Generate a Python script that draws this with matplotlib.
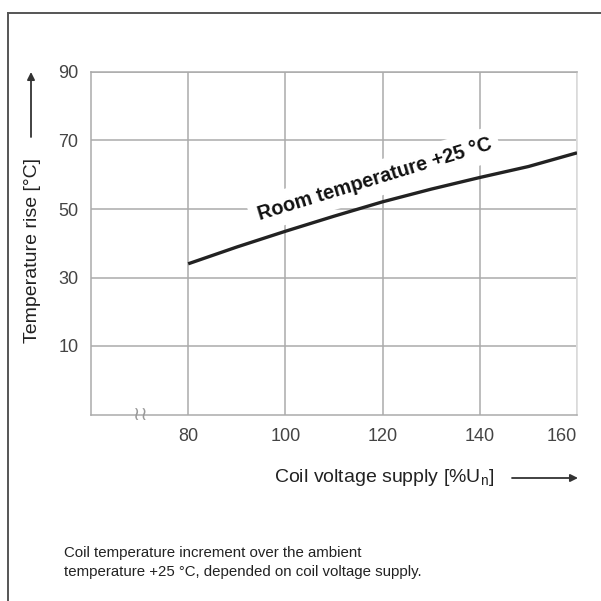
import matplotlib
matplotlib.use("Agg")
import matplotlib.pyplot as plt
from matplotlib.lines import Line2D

plt.rcParams['font.family'] = ['Liberation Sans', 'DejaVu Sans']

# coil voltage supply [%Un] vs temperature rise [°C]
voltage = [80, 90, 100, 110, 120, 130, 140, 150, 155, 160]
temp_rise = [34, 38.9, 43.5, 47.9, 52.1, 55.8, 59.2, 62.4, 64.4, 66.4]

x_ticks = [80, 100, 120, 140, 160]
y_ticks = [10, 30, 50, 70, 90]

curve_label = "Room temperature +25 °C"
x_label = r"Coil voltage supply [%U$_{\mathregular{n}}$]"
y_label = "Temperature rise [°C]"
note_lines = ["Coil temperature increment over the ambient",
              "temperature +25 °C, depended on coil voltage supply."]

GRID = "#ababab"
W = 601

fig = plt.figure(figsize=(6.01, 6.01), dpi=100)
ax = fig.add_axes([91 / W, 1 - 414.5 / W, 486 / W, 342.5 / W])
ax.set_xlim(60, 160)
ax.set_ylim(-10, 90)

ax.set_xticks(x_ticks)
ax.set_yticks(y_ticks)
ax.tick_params(length=0, labelsize=13, labelcolor="#444444")
ax.tick_params(axis="x", pad=9.5)
ax.tick_params(axis="y", pad=9)
# last x label sits flush with the right edge
ax.get_xticklabels()[-1].set_horizontalalignment("right")
ax.grid(True, color=GRID, lw=1.1)
ax.set_axisbelow(True)
for side in ["left", "bottom", "top"]:
    ax.spines[side].set_color(GRID)
    ax.spines[side].set_linewidth(1.1)
ax.spines["right"].set_color("#dedede")
ax.spines["right"].set_linewidth(1.3)

ax.plot(voltage, temp_rise, color="#222222", lw=2.4, solid_capstyle="butt",
        zorder=3)

ax.text(118.3, 58.6, curve_label, rotation=17, rotation_mode="anchor",
        ha="center", va="center", fontsize=14.3, fontweight="bold",
        color="#111111", zorder=2,
        bbox=dict(boxstyle="square,pad=0.4", facecolor="white",
                  edgecolor="none"))

# axis break mark
ax.text(70.1, -10, "\u2240\u2240", family="DejaVu Sans", fontsize=14,
        color="#999999", ha="center", va="center", zorder=4)

# axis labels with arrows
fig.text(384 / W, 1 - 477 / W, x_label, fontsize=14, color="#222222",
         ha="center", va="center")
fig.text(33 / W, 1 - 250 / W, y_label, fontsize=14, color="#222222",
         rotation=90, ha="center", va="center")
ax.annotate("", xy=(578, W - 478), xytext=(512, W - 478),
            xycoords="figure pixels", textcoords="figure pixels",
            arrowprops=dict(arrowstyle="-|>", color="#333333", lw=1.3,
                            mutation_scale=11, shrinkA=0, shrinkB=0))
ax.annotate("", xy=(31, W - 72), xytext=(31, W - 137),
            xycoords="figure pixels", textcoords="figure pixels",
            arrowprops=dict(arrowstyle="-|>", color="#333333", lw=1.3,
                            mutation_scale=11, shrinkA=0, shrinkB=0))

fig.text(64 / W, 1 - 553 / W, note_lines[0], fontsize=10.8, color="#222222",
         ha="left", va="center")
fig.text(64 / W, 1 - 572 / W, note_lines[1], fontsize=10.8, color="#222222",
         ha="left", va="center")

# outer frame: top and left only
fig.add_artist(Line2D([8 / W, 8 / W], [0, 1 - 12.5 / W], color="#555555",
                      lw=1.4, transform=fig.transFigure))
fig.add_artist(Line2D([8 / W, 1], [1 - 12.5 / W, 1 - 12.5 / W],
                      color="#555555", lw=1.4, transform=fig.transFigure))

fig.savefig("out.png", dpi=100)
